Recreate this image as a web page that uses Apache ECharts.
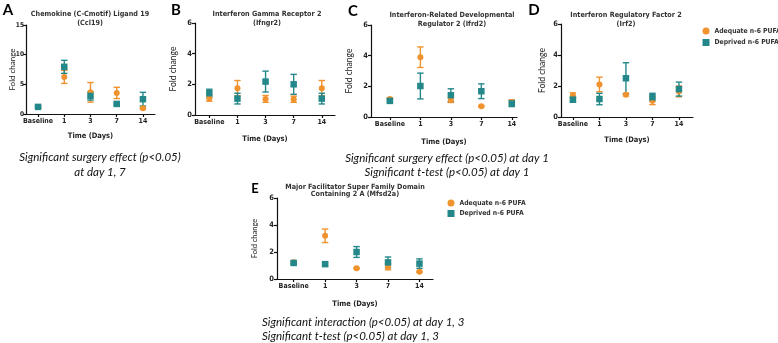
<!DOCTYPE html>
<html>
<head>
<meta charset="utf-8">
<script src="https://cdn.jsdelivr.net/npm/echarts@6/dist/echarts.min.js"></script>
<style>
html,body{margin:0;padding:0;background:#fff;}
#chart{width:778px;height:343px;}
</style>
</head>
<body>
<div id="chart"></div>
<script>
// ---------- data ----------
const days = ['Baseline', '1', '3', '7', '14'];
const seriesNames = ['Adequate n-6 PUFA', 'Deprived n-6 PUFA'];
const yTicksA = [0, 5, 10, 15];
const yTicksOther = [0, 2, 4, 6];

// A: Ccl19
const ccl19AdequateMean = [1.2, 6.25, 3.65, 3.55, 0.95];
const ccl19AdequateErr  = [0.2, 1.1, 1.65, 0.95, 0.15];
const ccl19DeprivedMean = [1.2, 7.95, 3.05, 1.7, 2.5];
const ccl19DeprivedErr  = [0.15, 1.1, 0.7, 0.15, 1.15];
// B: Ifngr2
const ifngr2AdequateMean = [1.1, 1.75, 1.05, 1.03, 1.75];
const ifngr2AdequateErr  = [0.2, 0.5, 0.22, 0.2, 0.5];
const ifngr2DeprivedMean = [1.42, 1.07, 2.18, 2.0, 1.07];
const ifngr2DeprivedErr  = [0.26, 0.35, 0.68, 0.65, 0.35];
// C: Ifrd2
const ifrd2AdequateMean = [1.18, 3.9, 1.1, 0.7, 0.98];
const ifrd2AdequateErr  = [0.08, 0.67, 0.15, 0.05, 0.13];
const ifrd2DeprivedMean = [1.05, 2.02, 1.42, 1.68, 0.88];
const ifrd2DeprivedErr  = [0.1, 0.84, 0.42, 0.48, 0.2];
// D: Irf2
const irf2AdequateMean = [1.39, 2.1, 1.44, 1.05, 1.65];
const irf2AdequateErr  = [0.17, 0.47, 0.08, 0.25, 0.35];
const irf2DeprivedMean = [1.12, 1.16, 2.5, 1.28, 1.8];
const irf2DeprivedErr  = [0.15, 0.37, 1.0, 0.25, 0.45];
// E: Mfsd2a
const mfsd2aAdequateMean = [1.25, 3.2, 0.79, 0.9, 0.54];
const mfsd2aAdequateErr  = [0.08, 0.5, 0.05, 0.22, 0.05];
const mfsd2aDeprivedMean = [1.19, 1.1, 2.0, 1.23, 1.14];
const mfsd2aDeprivedErr  = [0.1, 0.12, 0.4, 0.4, 0.35];

// ---------- layout / style ----------
const ORANGE = '#F0922E';
const TEAL = '#24888A';
const FONT = 'Lato, "Liberation Sans", sans-serif';
const BFONT = '"Liberation Sans Narrow", "DejaVu Sans Condensed", Lato, sans-serif';

const panels = [
  {letter:'A', title:['Chemokine (C-Cmotif) Ligand 19', '(Ccl19)'], tx:90, ty:14,
   grid:{left:26, top:25, width:129, height:89}, xmin:-0.46, xmax:4.46, ymax:15, yint:5, yticks:yTicksA,
   xNameGap:18, yNameGap:10, ynSize:8, ylSize:6.5, ylMargin:2, lx:8, ly:10, lsize:15,
   adq:[ccl19AdequateMean, ccl19AdequateErr], dep:[ccl19DeprivedMean, ccl19DeprivedErr]},
  {letter:'B', title:['Interferon Gamma Receptor 2', '(Ifngr2)'], tx:267, ty:14,
   grid:{left:195, top:23, width:140, height:92}, xmin:-0.51, xmax:4.47, ymax:6, yint:2, yticks:yTicksOther,
   xNameGap:20, yNameGap:17, ynSize:8.5, lx:176, ly:10, lsize:15,
   adq:[ifngr2AdequateMean, ifngr2AdequateErr], dep:[ifngr2DeprivedMean, ifngr2DeprivedErr]},
  {letter:'C', title:['Interferon-Related Developmental', 'Regulator 2 (Ifrd2)'], tx:452, ty:15,
   grid:{left:371, top:25, width:146, height:92}, xmin:-0.62, xmax:4.17, ymax:6, yint:2, yticks:yTicksOther,
   xNameGap:21, yNameGap:17, ynSize:8.5, lx:353, ly:11, lsize:15,
   adq:[ifrd2AdequateMean, ifrd2AdequateErr], dep:[ifrd2DeprivedMean, ifrd2DeprivedErr]},
  {letter:'D', title:['Interferon Regulatory Factor 2', '(Irf2)'], tx:626, ty:15,
   grid:{left:561, top:24, width:132, height:93}, xmin:-0.45, xmax:4.53, ymax:6, yint:2, yticks:yTicksOther,
   xNameGap:19, yNameGap:14, ynSize:8.5, lx:534, ly:10, lsize:15,
   adq:[irf2AdequateMean, irf2AdequateErr], dep:[irf2DeprivedMean, irf2DeprivedErr]},
  {letter:'E', title:['Major Facilitator Super Family Domain', 'Containing 2 A (Mfsd2a)'], tx:355, ty:187, tgap:7.5,
   grid:{left:277, top:198, width:156, height:81}, xmin:-0.53, xmax:4.43, ymax:6, yint:2, yticks:yTicksOther,
   xNameGap:21, yNameGap:18, ynSize:7.5, lx:255, ly:189, lsize:13,
   adq:[mfsd2aAdequateMean, mfsd2aAdequateErr], dep:[mfsd2aDeprivedMean, mfsd2aDeprivedErr]}
];

function rows(mean, err) {
  return mean.map((m, i) => [i, m, err[i]]);
}
function errRender(color) {
  return function (params, api) {
    const x = api.value(0), m = api.value(1), e = api.value(2);
    const t = api.coord([x, m + e]);
    const b = api.coord([x, m - e]);
    const w = 3.2;
    const st = {stroke: color, lineWidth: 1.4};
    return {type:'group', children:[
      {type:'line', shape:{x1:t[0], y1:t[1], x2:b[0], y2:b[1]}, style:st},
      {type:'line', shape:{x1:t[0]-w, y1:t[1], x2:t[0]+w, y2:t[1]}, style:st},
      {type:'line', shape:{x1:b[0]-w, y1:b[1], x2:b[0]+w, y2:b[1]}, style:st}
    ]};
  };
}

const grids = [], xAxes = [], yAxes = [], series = [], graphics = [];
const axisLine = {show:true, onZero:false, lineStyle:{color:'#111', width:1.2}};
const tickIdx = days.map((d, i) => i);

panels.forEach((p, i) => {
  grids.push(Object.assign({containLabel:false}, p.grid));
  xAxes.push({
    gridIndex:i, type:'value', min:p.xmin, max:p.xmax,
    axisLine:axisLine,
    axisTick:{show:true, customValues:tickIdx, length:3, lineStyle:{color:'#111', width:1.2}},
    axisLabel:{customValues:tickIdx, formatter:(v) => days[Math.round(v)], fontSize:7, fontWeight:'bold',
               color:'#222', fontFamily:BFONT, margin:4},
    splitLine:{show:false},
    name:'Time (Days)', nameLocation:'middle', nameGap:p.xNameGap, nameMoveOverlap:false,
    nameTextStyle:{fontSize:7.5, fontWeight:'bold', color:'#222', fontFamily:BFONT}
  });
  yAxes.push({
    gridIndex:i, type:'value', min:0, max:p.ymax, interval:p.yint,
    axisLine:axisLine,
    axisTick:{show:true, length:3, lineStyle:{color:'#111', width:1.2}},
    axisLabel:{fontSize:p.ylSize || 7.5, fontWeight:'bold', color:'#222', fontFamily:BFONT,
               margin:(p.ylMargin != null ? p.ylMargin : 3)},
    splitLine:{show:false},
    name:'Fold change', nameLocation:'middle', nameGap:p.yNameGap, nameMoveOverlap:false,
    nameTextStyle:{fontSize:p.ynSize, color:'#222', fontFamily:FONT}
  });
  series.push({type:'custom', name:'errAdq'+i, xAxisIndex:i, yAxisIndex:i, renderItem:errRender(ORANGE),
               encode:{x:0, y:1}, data:rows(p.adq[0], p.adq[1]), silent:true});
  series.push({type:'scatter', name:seriesNames[0], xAxisIndex:i, yAxisIndex:i, symbol:'circle', symbolSize:6,
               itemStyle:{color:ORANGE, opacity:1}, data:p.adq[0].map((m, k) => [k, m])});
  series.push({type:'custom', name:'errDep'+i, xAxisIndex:i, yAxisIndex:i, renderItem:errRender(TEAL),
               encode:{x:0, y:1}, data:rows(p.dep[0], p.dep[1]), silent:true});
  series.push({type:'scatter', name:seriesNames[1], xAxisIndex:i, yAxisIndex:i, symbol:'rect', symbolSize:6.5,
               itemStyle:{color:TEAL, opacity:1}, data:p.dep[0].map((m, k) => [k, m])});

  // panel letter
  graphics.push({type:'text', x:p.lx, y:p.ly, style:{text:p.letter, fill:'#000', font:'bold '+p.lsize+'px ' + FONT,
                 textAlign:'center', textVerticalAlign:'middle'}});
  // panel title
  const gap = p.tgap || 9;
  p.title.forEach((line, k) => {
    graphics.push({type:'text', x:p.tx, y:p.ty + k*gap, style:{text:line, fill:'#333',
                   font:'bold 7.2px ' + BFONT, textAlign:'center', textVerticalAlign:'middle'}});
  });
});

const captions = [
  {text:'Significant surgery effect (p<0.05)', x:100, y:157, align:'center'},
  {text:'at day 1, 7', x:100, y:172, align:'center'},
  {text:'Significant surgery effect (p<0.05) at day 1', x:447, y:158, align:'center'},
  {text:'Significant t-test (p<0.05) at day 1', x:447, y:172, align:'center'},
  {text:'Significant interaction (p<0.05) at day 1, 3', x:262, y:322, align:'left'},
  {text:'Significant t-test (p<0.05) at day 1, 3', x:262, y:336, align:'left'}
];
captions.forEach(c => {
  graphics.push({type:'text', x:c.x, y:c.y, style:{text:c.text, fill:'#111', font:'italic 11.5px ' + FONT,
                 textAlign:c.align, textVerticalAlign:'middle'}});
});

const legendData = [{name:seriesNames[0], icon:'circle'}, {name:seriesNames[1], icon:'rect'}];
const legendText = {fontSize:6.8, fontWeight:'bold', color:'#333', fontFamily:BFONT, padding:[0, 0, 0, 0]};

const option = {
  backgroundColor:'#fff',
  animation:false,
  grid:grids, xAxis:xAxes, yAxis:yAxes, series:series, graphic:graphics,
  legend:[
    {left:702.5, top:27.5, orient:'vertical', padding:0, itemWidth:7, itemHeight:7, itemGap:4.5,
     data:legendData, textStyle:legendText, selectedMode:false},
    {left:447.5, top:199.5, orient:'vertical', padding:0, itemWidth:7, itemHeight:7, itemGap:3.5,
     data:legendData, textStyle:legendText, selectedMode:false}
  ]
};

const chart = echarts.init(document.getElementById('chart'), null, {renderer:'canvas'});
chart.setOption(option);
</script>
</body>
</html>
